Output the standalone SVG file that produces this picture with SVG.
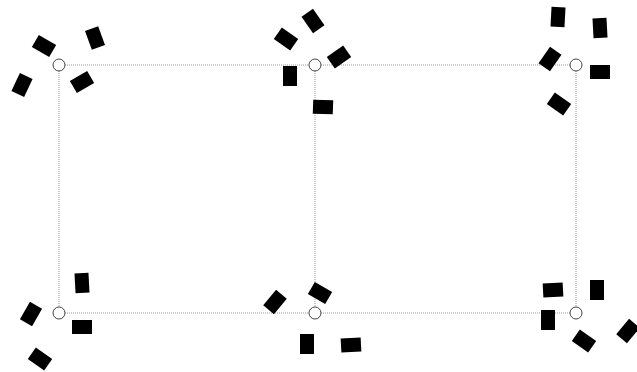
<svg xmlns="http://www.w3.org/2000/svg" width="637" height="372" viewBox="0 0 637 372">
<style>
.bg{fill:#ffffff}
.c{fill:none;stroke:#444;stroke-width:1}
.l{stroke:#999;stroke-width:1;stroke-dasharray:1,1;fill:none}
.w{fill:#000}
</style>
<defs>
<rect id="wide" class="w" x="-10" y="-7" width="20" height="14"/>
<rect id="tall" class="w" x="-7" y="-10" width="14" height="20"/>
</defs>
<rect class="bg" width="637" height="372"/>
<g id="connectors">
<line class="l" x1="65" y1="65" x2="309" y2="65"/>
<line class="l" x1="321" y1="65" x2="570" y2="65"/>
<line class="l" x1="65" y1="313" x2="309" y2="313"/>
<line class="l" x1="321" y1="313" x2="570" y2="313"/>
<line class="l" x1="59" y1="71" x2="59" y2="307"/>
<line class="l" x1="315" y1="71" x2="315" y2="307"/>
<line class="l" x1="576" y1="71" x2="576" y2="307"/>
</g>
<g id="node1">
<circle class="c" cx="59" cy="65" r="6"/>
<use href="#wide" transform="translate(44,46) rotate(30)"/>
<use href="#tall" transform="translate(95,38) rotate(-20)"/>
<use href="#tall" transform="translate(22,85) rotate(25)"/>
<use href="#wide" transform="translate(82,82) rotate(-30)"/>
</g>
<g id="node2">
<circle class="c" cx="315" cy="65" r="6"/>
<use href="#tall" transform="translate(313,21) rotate(-35)"/>
<use href="#wide" transform="translate(286,39) rotate(35)"/>
<use href="#wide" transform="translate(339,57) rotate(-35)"/>
<use href="#tall" transform="translate(290,76)"/>
<use href="#wide" transform="translate(323,107) rotate(2)"/>
</g>
<g id="node3">
<circle class="c" cx="576" cy="65" r="6"/>
<use href="#tall" transform="translate(558,17) rotate(3)"/>
<use href="#tall" transform="translate(600,28) rotate(-3)"/>
<use href="#tall" transform="translate(550,59) rotate(35)"/>
<use href="#wide" transform="translate(600,72)"/>
<use href="#wide" transform="translate(559,104) rotate(35)"/>
</g>
<g id="node4">
<circle class="c" cx="59" cy="313" r="6"/>
<use href="#tall" transform="translate(82,283) rotate(-3)"/>
<use href="#tall" transform="translate(31,314) rotate(30)"/>
<use href="#wide" transform="translate(82,327)"/>
<use href="#wide" transform="translate(40,359) rotate(35)"/>
</g>
<g id="node5">
<circle class="c" cx="315" cy="313" r="6"/>
<use href="#wide" transform="translate(320,293) rotate(30)"/>
<use href="#tall" transform="translate(275,302) rotate(40)"/>
<use href="#tall" transform="translate(307,344)"/>
<use href="#wide" transform="translate(351,345) rotate(-3)"/>
</g>
<g id="node6">
<circle class="c" cx="576" cy="313" r="6"/>
<use href="#wide" transform="translate(553,290) rotate(-3)"/>
<use href="#tall" transform="translate(597,290)"/>
<use href="#tall" transform="translate(548,320)"/>
<use href="#wide" transform="translate(584,341) rotate(35)"/>
<use href="#tall" transform="translate(628,331) rotate(40)"/>
</g>
</svg>
